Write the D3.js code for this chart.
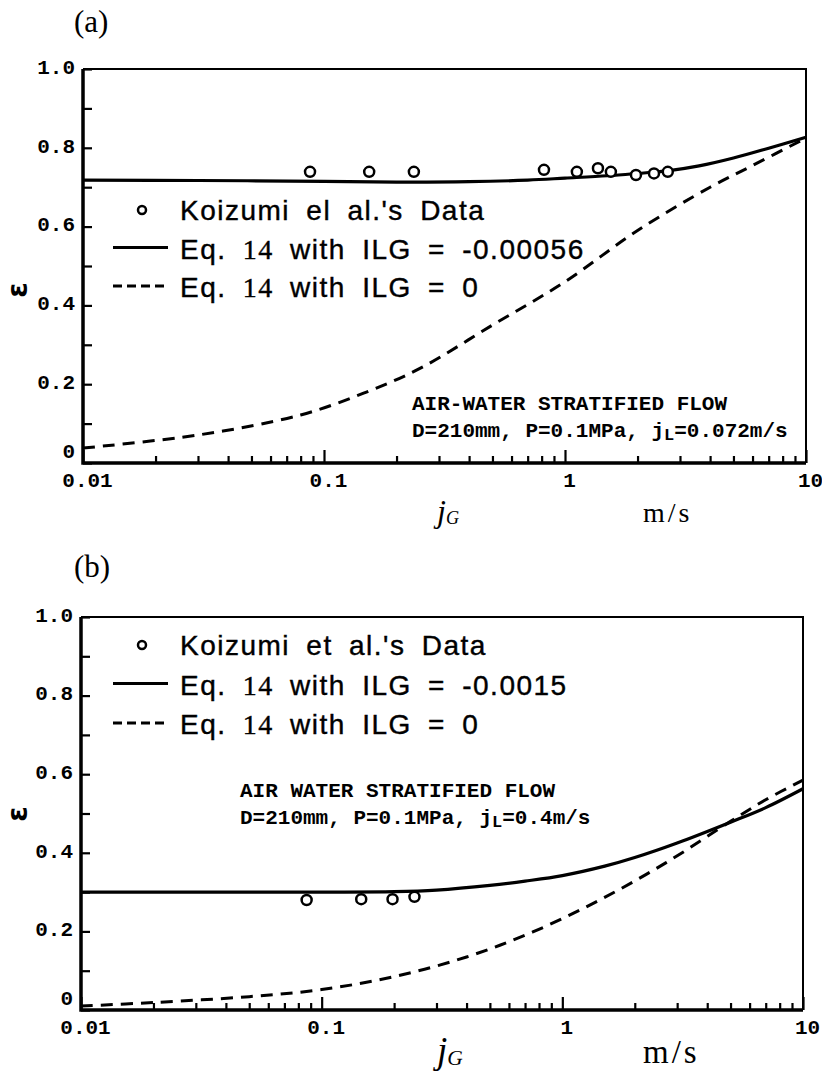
<!DOCTYPE html>
<html>
<head>
<meta charset="utf-8">
<script src="https://cdnjs.cloudflare.com/ajax/libs/d3/7.8.5/d3.min.js"></script>
<style>
  body { margin: 0; background: #fff; }
  .tick text { font-family: "Liberation Mono", "DejaVu Sans Mono", monospace; font-weight: bold; font-size: 21px; fill: #000; }
  .tick line { stroke: #000; stroke-width: 2.2px; }
  .legend { font-family: "Liberation Sans", Arial, sans-serif; font-size: 28px; letter-spacing: 1.5px; word-spacing: 7px; stroke: #000; stroke-width: 0.4px; }
  .note { font-family: "Liberation Mono", monospace; font-weight: bold; font-size: 21px; }
  .serif { font-family: "Liberation Serif", "Times New Roman", serif; }
</style>
</head>
<body>
<div id="chart"></div>
<script>

var svgWidth = 822;
var svgHeight = 1079;

// ---- panel (a): jL = 0.072 m/s
var aPointJ = [0.0875, 0.154, 0.236, 0.818, 1.12, 1.37, 1.55, 1.97, 2.34, 2.67];
var aPointEps = [0.739, 0.739, 0.739, 0.744, 0.739, 0.748, 0.739, 0.731, 0.735, 0.739];

var aSolidJ = [0.01, 0.03, 0.1, 0.2, 0.4, 0.7, 1, 1.5, 2, 2.7, 3.6, 5, 7, 10];
var aSolidEps = [0.718, 0.717, 0.715, 0.713, 0.714, 0.718, 0.723, 0.729, 0.735, 0.742, 0.754, 0.774, 0.799, 0.827];

var aDashJ = [0.01, 0.03, 0.08, 0.15, 0.25, 0.5, 1, 2, 4, 6, 10];
var aDashEps = [0.038, 0.071, 0.122, 0.180, 0.240, 0.350, 0.460, 0.590, 0.700, 0.755, 0.825];

// ---- panel (b): jL = 0.4 m/s
var bPointJ = [0.0866, 0.146, 0.197, 0.243];
var bPointEps = [0.280, 0.282, 0.282, 0.288];

var bSolidJ = [0.01, 0.1, 0.2, 0.3, 0.5, 0.7, 1, 1.5, 2, 3, 5, 7, 10];
var bSolidEps = [0.300, 0.300, 0.301, 0.305, 0.317, 0.328, 0.342, 0.366, 0.388, 0.425, 0.478, 0.515, 0.563];

var bDashJ = [0.01, 0.02, 0.05, 0.1, 0.2, 0.4, 0.75, 1.43, 2.7, 5, 7, 10];
var bDashEps = [0.010, 0.019, 0.034, 0.052, 0.085, 0.135, 0.198, 0.280, 0.375, 0.480, 0.535, 0.585];

// ---- axes
var xMajor = [0.01, 0.1, 1, 10];
var xLabels = ["0.01", "0.1", "1", "10"];
var yMajor = [0, 0.2, 0.4, 0.6, 0.8, 1.0];
var yLabels = ["0", "0.2", "0.4", "0.6", "0.8", "1.0"];
var yMinor = [0.1, 0.3, 0.5, 0.7, 0.9];

// ---- texts
var aLegend = ["Koizumi el al.'s Data", "-0.00056", "0"];
var bLegend = ["Koizumi et al.'s Data", "-0.0015", "0"];
var aNote = ["AIR-WATER STRATIFIED FLOW", "D=210mm, P=0.1MPa, j", "L", "=0.072m/s"];
var bNote = ["AIR WATER STRATIFIED FLOW", "D=210mm, P=0.1MPa, j", "L", "=0.4m/s"];

var svg = d3.select("#chart")
  .append("svg")
  .attr("width", svgWidth)
  .attr("height", svgHeight)
  .style("background", "#fff");

function zip(a, b) {
  return a.map((d, i) => [d, b[i]]);
}

var panels = [
  {
    tag: "(a)", tagY: 32,
    left: 83, right: 806, top: 69, bottom: 463,
    points: zip(aPointJ, aPointEps),
    solid: zip(aSolidJ, aSolidEps),
    dash: zip(aDashJ, aDashEps),
    legend: aLegend, legendY: 220, legendStep: 38.5,
    note: aNote, noteX: 412, noteY: 410,
    unitSize: 28, unitY: 522, epsY: 290
  },
  {
    tag: "(b)", tagY: 577,
    left: 81, right: 803, top: 617, bottom: 1010,
    points: zip(bPointJ, bPointEps),
    solid: zip(bSolidJ, bSolidEps),
    dash: zip(bDashJ, bDashEps),
    legend: bLegend, legendY: 655, legendStep: 39.5,
    note: bNote, noteX: 240, noteY: 797,
    unitSize: 33, unitY: 1063, epsY: 814
  }
];

panels.forEach(function(p) {

  var x = d3.scaleLog().domain([0.01, 10]).range([p.left, p.right]);
  var y = d3.scaleLinear().domain([0, 1]).range([p.bottom, p.top]);

  var g = svg.append("g");

  // minor x ticks (2..9 of each decade)
  var minors = [];
  [0.01, 0.1, 1].forEach(function(b) {
    for (var k = 2; k <= 9; k++) minors.push(b * k);
  });

  g.append("g")
    .attr("transform", `translate(0, ${p.bottom})`)
    .call(d3.axisBottom(x).tickValues(minors).tickSize(-7).tickFormat(""))
    .call(a => a.select(".domain").remove());

  g.append("g")
    .attr("transform", `translate(0, ${p.bottom})`)
    .call(d3.axisBottom(x).tickValues(xMajor).tickSize(-13).tickPadding(9)
      .tickFormat((d, i) => xLabels[i]))
    .call(a => a.select(".domain").remove())
    .call(a => a.selectAll(".tick text").attr("dx", 4));

  // y ticks
  g.append("g")
    .attr("transform", `translate(${p.left}, 0)`)
    .call(d3.axisLeft(y).tickValues(yMinor).tickSize(-9).tickFormat(""))
    .call(a => a.select(".domain").remove());

  g.append("g")
    .attr("transform", `translate(${p.left}, 0)`)
    .call(d3.axisLeft(y).tickValues(yMajor).tickSize(-9).tickPadding(8)
      .tickFormat((d, i) => yLabels[i]))
    .call(a => a.select(".domain").remove())
    .call(a => a.selectAll(".tick text").attr("dy", d => d === 0 ? "-0.25em" : "0.2em"));

  // frame: heavy left/bottom, light top/right
  g.append("path")
    .attr("d", `M${p.left},${p.top}H${p.right}V${p.bottom}`)
    .attr("fill", "none").attr("stroke", "#000").attr("stroke-width", 2);
  g.append("path")
    .attr("d", `M${p.left},${p.top}V${p.bottom}H${p.right}`)
    .attr("fill", "none").attr("stroke", "#000").attr("stroke-width", 3.5);

  var line = d3.line()
    .x(d => x(d[0]))
    .y(d => y(d[1]))
    .curve(d3.curveCatmullRom.alpha(0.5));

  g.append("path")
    .datum(p.dash)
    .attr("d", line)
    .attr("fill", "none")
    .attr("stroke", "#000")
    .attr("stroke-width", 3)
    .attr("stroke-dasharray", "12,8");

  g.append("path")
    .datum(p.solid)
    .attr("d", line)
    .attr("fill", "none")
    .attr("stroke", "#000")
    .attr("stroke-width", 3.2);

  g.selectAll("circle.pt")
    .data(p.points)
    .enter()
    .append("circle")
    .attr("class", "pt")
    .attr("cx", d => x(d[0]))
    .attr("cy", d => y(d[1]))
    .attr("r", 5)
    .attr("fill", "#fff")
    .attr("stroke", "#000")
    .attr("stroke-width", 2.5);

  // legend
  var ly = p.legendY, ls = p.legendStep;
  g.append("circle")
    .attr("cx", 142).attr("cy", ly - 10).attr("r", 4)
    .attr("fill", "#fff").attr("stroke", "#000").attr("stroke-width", 2.5);
  g.append("line")
    .attr("x1", 113).attr("x2", 168).attr("y1", ly + ls - 11).attr("y2", ly + ls - 11)
    .attr("stroke", "#000").attr("stroke-width", 3);
  g.append("line")
    .attr("x1", 113).attr("x2", 168).attr("y1", ly + 2 * ls - 11).attr("y2", ly + 2 * ls - 11)
    .attr("stroke", "#000").attr("stroke-width", 3).attr("stroke-dasharray", "9,5");

  g.append("text").attr("class", "legend")
    .attr("x", 180).attr("y", ly).text(p.legend[0]);

  [1, 2].forEach(function(k) {
    var t = g.append("text").attr("class", "legend")
      .attr("x", 180).attr("y", ly + k * ls);
    t.append("tspan").text("Eq. ");
    t.append("tspan").attr("class", "serif").text("14");
    t.append("tspan").text(" with ILG = " + p.legend[k]);
  });

  // condition note
  g.append("text").attr("class", "note")
    .attr("x", p.noteX).attr("y", p.noteY).text(p.note[0]);
  var n2 = g.append("text").attr("class", "note")
    .attr("x", p.noteX).attr("y", p.noteY + 27);
  n2.append("tspan").text(p.note[1]);
  n2.append("tspan").attr("dy", 3).style("font-size", "17px").text(p.note[2]);
  n2.append("tspan").attr("dy", -3).text(p.note[3]);

  // panel tag
  svg.append("text")
    .attr("class", "serif")
    .attr("x", 74).attr("y", p.tagY)
    .style("font-size", "31px")
    .text(p.tag);

  // axis titles
  var jt = svg.append("text")
    .attr("class", "serif")
    .attr("x", 437).attr("y", p.unitY)
    .style("font-size", (p.unitSize + 4) + "px")
    .style("font-style", "italic");
  jt.append("tspan").text("j");
  jt.append("tspan").attr("dy", 2).style("font-size", (p.unitSize * 0.65) + "px").text("G");

  svg.append("text")
    .attr("class", "serif")
    .attr("x", 643).attr("y", p.unitY)
    .style("font-size", p.unitSize + "px")
    .style("letter-spacing", "3px")
    .text("m/s");

  svg.append("text")
    .attr("transform", `translate(27, ${p.epsY}) rotate(-90)`)
    .attr("text-anchor", "middle")
    .style("font-family", "'DejaVu Sans', sans-serif")
    .style("font-weight", "bold")
    .style("font-size", "28px")
    .text("ε");
});

</script>
</body>
</html>
